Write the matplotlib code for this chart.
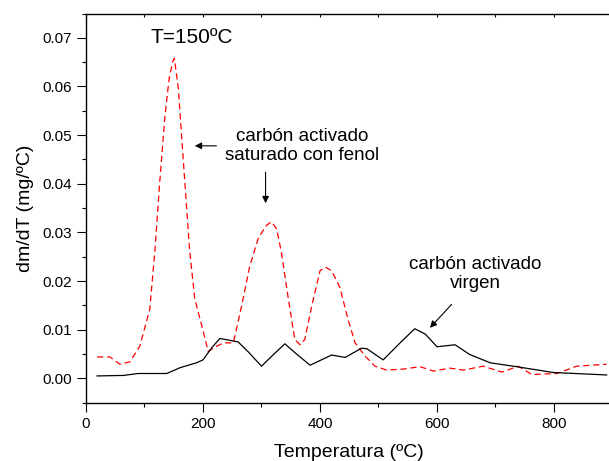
import matplotlib
matplotlib.use("Agg")
import matplotlib.pyplot as plt
from matplotlib.ticker import MultipleLocator

plt.rcParams['font.family'] = ['Liberation Sans', 'DejaVu Sans']

# Saturated activated carbon (red dashed)
temp_sat = [19, 41, 58, 75, 92, 109, 118, 126, 135, 142, 148, 151, 158, 163, 169,
            177, 186, 198, 209, 220, 235, 252, 266, 280, 295, 309, 317, 326, 334,
            346, 357, 366, 374, 386, 400, 409, 420, 434, 448, 460, 477, 494, 514,
            542, 571, 594, 622, 645, 679, 711, 739, 762, 805, 839, 890]
dmdt_sat = [0.0044, 0.0044, 0.0029, 0.0034, 0.0066, 0.0142, 0.0265, 0.0403, 0.0540,
            0.0615, 0.0650, 0.0658, 0.0595, 0.0506, 0.0403, 0.0265, 0.0163, 0.0108,
            0.0055, 0.0064, 0.0073, 0.0073, 0.0149, 0.0231, 0.0290, 0.0315, 0.0322,
            0.0307, 0.0259, 0.0163, 0.0080, 0.0069, 0.0080, 0.0149, 0.0221, 0.0229,
            0.0221, 0.0187, 0.0121, 0.0073, 0.0046, 0.0025, 0.0017, 0.0019, 0.0024,
            0.0015, 0.0021, 0.0017, 0.0025, 0.0013, 0.0025, 0.0008, 0.0010, 0.0025,
            0.0029]

# Virgin activated carbon (black solid)
temp_vir = [19, 64, 89, 138, 161, 189, 200, 215, 229, 238, 260, 277, 300, 317, 340,
            357, 383, 420, 443, 471, 480, 508, 537, 562, 580, 600, 631, 656, 691,
            736, 799, 890]
dmdt_vir = [0.0005, 0.0006, 0.0010, 0.0010, 0.0022, 0.0032, 0.0038, 0.0063, 0.0082,
            0.0080, 0.0075, 0.0055, 0.0025, 0.0045, 0.0071, 0.0053, 0.0027, 0.0048,
            0.0043, 0.0062, 0.0061, 0.0038, 0.0073, 0.0102, 0.0091, 0.0065, 0.0069,
            0.0049, 0.0032, 0.0024, 0.0012, 0.0007]

fig = plt.figure(figsize=(6.09, 4.61), dpi=100)
ax = fig.add_axes([0.1412, 0.1265, 1.0057 - 0.1412, 0.9707 - 0.1265])

ax.plot(temp_sat, dmdt_sat, color='#ff0000', lw=0.9, dashes=(5, 3))
ax.plot(temp_vir, dmdt_vir, color='black', lw=0.9)

ax.set_xlim(0, 900)
ax.set_ylim(-0.005, 0.075)
ax.xaxis.set_major_locator(MultipleLocator(200))
ax.xaxis.set_minor_locator(MultipleLocator(100))
ax.yaxis.set_major_locator(MultipleLocator(0.01))
ax.yaxis.set_minor_locator(MultipleLocator(0.005))
ax.yaxis.set_major_formatter(plt.FuncFormatter(lambda v, p: f"{v:.2f}"))

ax.tick_params(axis='both', which='major', direction='out', length=6.5, width=0.8,
               labelsize=11, top=False, right=False)
ax.tick_params(axis='both', which='minor', direction='out', length=3.2, width=0.8,
               top=False, right=False)
# top ticks inward, small
sec = ax.secondary_xaxis('top')
sec.xaxis.set_major_locator(MultipleLocator(100))
sec.tick_params(direction='in', length=2, width=0.8, labeltop=False)
sec.spines['top'].set_visible(False)

for s in ax.spines.values():
    s.set_linewidth(1.0)

ax.set_xlabel('Temperatura (ºC)', fontsize=14, labelpad=10)
ax.set_ylabel('dm/dT (mg/ºC)', fontsize=14, labelpad=6)

ax.text(180, 0.0700, 'T=150ºC', fontsize=15, ha='center', va='center')
ax.text(369, 0.0478, 'carbón activado\nsaturado con fenol', fontsize=13.5,
        ha='center', va='center', linespacing=1.15)
ax.text(665, 0.0214, 'carbón activado\nvirgen', fontsize=13.5,
        ha='center', va='center', linespacing=1.15)

arrow = dict(arrowstyle='-|>', color='black', lw=0.8, mutation_scale=10,
             shrinkA=0, shrinkB=0)
ax.annotate('', xy=(186, 0.0478), xytext=(223, 0.0478), arrowprops=arrow)
ax.annotate('', xy=(307, 0.0360), xytext=(307, 0.0424), arrowprops=arrow)
ax.annotate('', xy=(588, 0.0104), xytext=(625, 0.0152), arrowprops=arrow)

fig.savefig('out.png', dpi=100)
